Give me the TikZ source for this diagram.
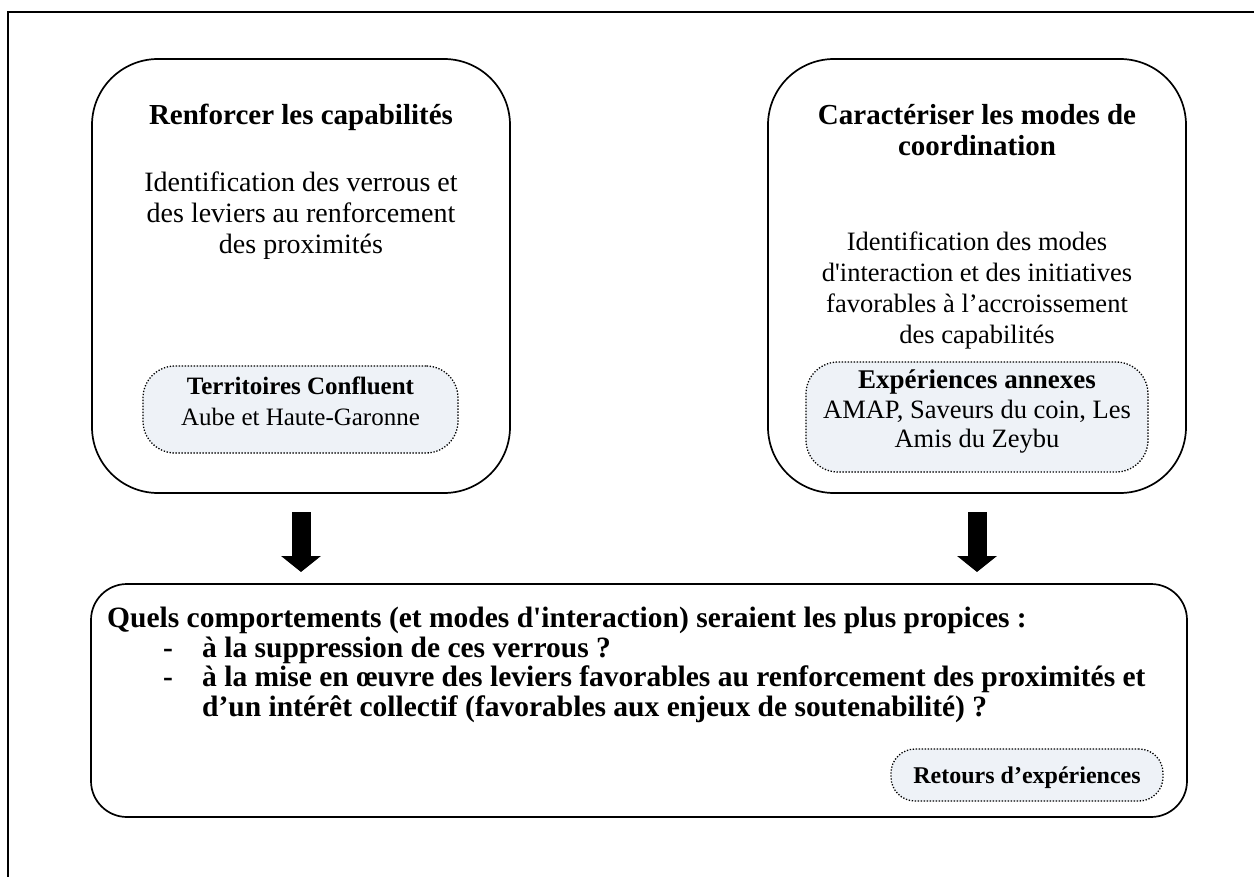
\documentclass[tikz,border=0pt]{standalone}
\usepackage{fontspec}
\newfontfamily\gar{Liberation Serif}
\usetikzlibrary{arrows.meta}
\definecolor{lightfill}{RGB}{238,242,247}
\begin{document}
\begin{tikzpicture}[x=1pt,y=-1pt,
  every node/.style={font=\gar\fontsize{25}{31}\selectfont},
  txt/.style={anchor=base,inner sep=0pt},
  txtl/.style={anchor=base west,inner sep=0pt},
  ttl/.style={txt,font=\gar\bfseries\fontsize{29}{31}\selectfont},
  bodyl/.style={txt,font=\gar\fontsize{28}{31}\selectfont},
  bodyr/.style={txt,font=\gar\fontsize{26.5}{31}\selectfont},
  dotl/.style={txt,font=\gar\fontsize{25}{30}\selectfont},
  dotr/.style={txt,font=\gar\fontsize{26.5}{30}\selectfont},
  low/.style={txtl,font=\gar\bfseries\fontsize{29.5}{30}\selectfont},
  bigbox/.style={draw,line width=1.7pt,rounded corners=66pt,inner sep=0pt},
  lowbox/.style={draw,line width=1.7pt,rounded corners=36pt,inner sep=0pt},
  dotbox/.style={draw,fill=lightfill,line width=1.3pt,dash pattern=on 1.3pt off 1.7pt,inner sep=0pt},
  blockarrow/.style={line width=19pt,-{Triangle[width=39pt,length=16pt]}},
]
\clip (0,0) rectangle (1254,877);
% outer frame
\draw[line width=2.6pt] (8,12) rectangle (1320,960);

% main boxes
\node[bigbox,minimum width=418pt,minimum height=434pt] (L) at (301,276) {};
\node[bigbox,minimum width=418pt,minimum height=434pt] (R) at (977,276) {};
\node[lowbox,minimum width=1096pt,minimum height=233pt] (B) at (639,700.5) {};

% dotted boxes
\node[dotbox,rounded corners=32pt,minimum width=315pt,minimum height=87pt] (LD) at (300.5,409.5) {};
\node[dotbox,rounded corners=32pt,minimum width=342pt,minimum height=110pt] (RD) at (977,417) {};
\node[dotbox,rounded corners=24pt,minimum width=272pt,minimum height=52pt] (BD) at (1027,775) {};

% left box text
\node[ttl] (l1) at (301,125) {Renforcer les capabilités};
\node[bodyl] (l2) at (301,192) {Identification des verrous et};
\node[bodyl] (l3) at (301,223) {des leviers au renforcement};
\node[bodyl] (l4) at (301,254) {des proximités};
\node[dotl] (l5) at (300.5,395) {\bfseries Territoires Confluent};
\node[dotl] (l6) at (300.5,425) {Aube et Haute-Garonne};

% right box text
\node[ttl] (r1) at (977,125) {Caractériser les modes de};
\node[ttl] (r2) at (977,156) {coordination};
\node[bodyr] (r3) at (977,251) {Identification des modes};
\node[bodyr] (r4) at (977,282) {d'interaction et des initiatives};
\node[bodyr] (r5) at (977,313) {favorables à l’accroissement};
\node[bodyr] (r6) at (977,344) {des capabilités};
\node[txt,font=\gar\bfseries\fontsize{27}{30}\selectfont] (r7) at (977,389) {Expériences annexes};
\node[dotr] (r8) at (977,418) {AMAP, Saveurs du coin, Les};
\node[dotr] (r9) at (977,447) {Amis du Zeybu};

% bottom box text
\node[low] (b1) at (107,627) {Quels comportements (et modes d'interaction) seraient les plus propices :};
\node[low] (d1) at (163,657) {-};
\node[low] (b2) at (202,657) {à la suppression de ces verrous ?};
\node[low] (d2) at (163,686) {-};
\node[low] (b3) at (202,686) {à la mise en œuvre des leviers favorables au renforcement des proximités et};
\node[low] (b4) at (202,716) {d’un intérêt collectif (favorables aux enjeux de soutenabilité) ?};
\node[txt,font=\gar\bfseries\fontsize{24}{30}\selectfont] (b5) at (1027,783) {Retours d’expériences};

% arrows
\coordinate (a1s) at (301,512);
\coordinate (a1e) at (301,572);
\coordinate (a2s) at (977,512);
\coordinate (a2e) at (977,572);
\draw[blockarrow] (a1s) -- (a1e);
\draw[blockarrow] (a2s) -- (a2e);
\end{tikzpicture}
\end{document}
